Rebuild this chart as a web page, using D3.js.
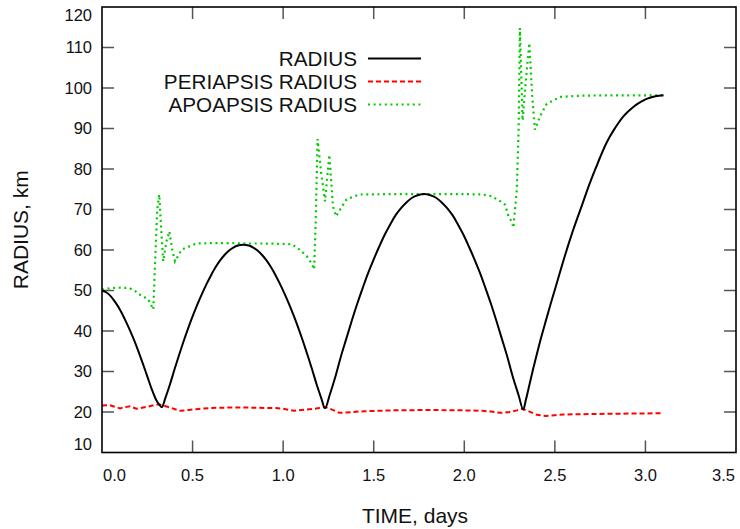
<!DOCTYPE html>
<html>
<head>
<meta charset="utf-8">
<script src="https://cdn.jsdelivr.net/npm/d3@7/dist/d3.min.js"></script>
<style>
  html, body { margin: 0; padding: 0; background: #fff; }
  svg { display: block; font-family: "Liberation Sans", Arial, Helvetica, sans-serif; }
</style>
</head>
<body>
<svg id="chart" width="740" height="529"></svg>
<script>
// ---------- data ----------
const seriesNames = ["RADIUS", "PERIAPSIS RADIUS", "APOAPSIS RADIUS"];

const radiusTime = [0, 0.025, 0.05, 0.075, 0.1, 0.125, 0.15, 0.175, 0.2, 0.225, 0.25, 0.275, 0.3, 0.315, 0.33,
  0.35, 0.375, 0.4, 0.425, 0.45, 0.475, 0.5, 0.525, 0.55, 0.575, 0.6, 0.625, 0.65, 0.675, 0.7, 0.725, 0.75, 0.78,
  0.81, 0.835, 0.86, 0.885, 0.91, 0.935, 0.96, 0.985, 1.01, 1.035, 1.06, 1.085, 1.11, 1.135, 1.16, 1.185, 1.21, 1.231,
  1.257, 1.287, 1.317, 1.348, 1.378, 1.408, 1.439, 1.469, 1.5, 1.53, 1.56, 1.591, 1.621, 1.652, 1.682, 1.712, 1.743, 1.778,
  1.813, 1.844, 1.874, 1.904, 1.935, 1.965, 1.996, 2.026, 2.056, 2.087, 2.117, 2.148, 2.178, 2.208, 2.239, 2.269, 2.2995, 2.325,
  2.34, 2.36, 2.38, 2.4, 2.425, 2.45, 2.475, 2.5, 2.525, 2.55, 2.575, 2.6, 2.625, 2.65, 2.675, 2.7, 2.731, 2.75, 2.775, 2.8, 2.825, 2.85, 2.875, 2.9, 2.925, 2.95, 2.975, 3.0, 3.025, 3.05, 3.075, 3.1];
const radiusValue = [50, 49.5, 48.5, 47.0, 45.2, 43.0, 40.6, 38.0, 35.1, 32.0, 28.8, 25.6, 22.9, 21.9, 21.2,
  23.5, 26.8, 30.5, 34.0, 37.4, 40.6, 43.6, 46.4, 49.0, 51.4, 53.6, 55.6, 57.3, 58.7, 59.8, 60.6, 61.1, 61.3,
  61.1, 60.6, 59.8, 58.7, 57.3, 55.6, 53.6, 51.4, 49.0, 46.4, 43.6, 40.6, 37.4, 34.0, 30.5, 26.8, 23.5, 20.9,
  24.2, 28.5, 33.4, 38.0, 42.4, 46.6, 50.6, 54.3, 57.7, 60.8, 63.7, 66.3, 68.6, 70.4, 71.8, 72.9, 73.5, 73.8,
  73.5, 72.9, 71.8, 70.4, 68.6, 66.3, 63.7, 60.8, 57.7, 54.3, 50.6, 46.6, 42.4, 38.0, 33.4, 28.5, 24.2, 20.6,
  23.0, 26.8, 30.6, 34.2, 38.5, 42.5, 46.4, 50.2, 54.0, 57.8, 61.4, 64.8, 68.0, 71.1, 74.3, 77.3, 80.8, 82.9, 85.5, 87.7, 89.6, 91.3, 92.8, 94.0, 95.0, 95.9, 96.6, 97.2, 97.6, 97.9, 98.1, 98.2];

const periTime = [0, 0.04, 0.07, 0.1, 0.13, 0.155, 0.19, 0.25, 0.31, 0.34, 0.375, 0.43, 0.48, 0.52, 0.6, 0.7, 0.8, 0.9, 0.96, 1.0, 1.06, 1.13, 1.19, 1.23, 1.27, 1.31, 1.35, 1.45, 1.6, 1.8, 2.0, 2.1, 2.15, 2.2, 2.25, 2.29, 2.32, 2.36, 2.4, 2.45, 2.5, 2.55, 2.7, 2.9, 3.09];
const periValue = [21.6, 21.7, 21.3, 20.9, 21.2, 21.4, 20.8, 21.3, 21.9, 21.6, 21.1, 20.3, 20.5, 20.7, 21.0, 21.1, 21.1, 21.0, 21.0, 20.8, 20.3, 20.6, 20.9, 21.3, 20.6, 19.8, 19.9, 20.2, 20.4, 20.5, 20.4, 20.3, 20.1, 19.8, 20.0, 20.4, 20.8, 20.1, 19.3, 19.0, 19.2, 19.4, 19.5, 19.6, 19.7];

const apoTime = [0, 0.05, 0.1, 0.15, 0.18, 0.2, 0.22, 0.255, 0.27, 0.283, 0.293, 0.305, 0.316, 0.327, 0.338, 0.355, 0.372, 0.388, 0.403, 0.44, 0.52, 0.6, 0.7, 0.8, 0.9, 1.0, 1.05, 1.09, 1.13, 1.16, 1.171, 1.18, 1.19, 1.21, 1.231, 1.255, 1.275, 1.292, 1.315, 1.35, 1.42, 1.6, 1.8, 2.0, 2.1, 2.15, 2.2, 2.225, 2.244, 2.262, 2.271, 2.29, 2.3, 2.307, 2.322, 2.34, 2.359, 2.375, 2.39, 2.418, 2.455, 2.53, 2.64, 2.8, 3.0, 3.1];
const apoValue = [50.2, 50.6, 50.7, 50.6, 50.0, 49.2, 48.7, 47.8, 46.5, 45.3, 56.8, 70.0, 73.7, 65.0, 57.2, 62.0, 64.6, 60.0, 57.2, 60.1, 61.6, 61.7, 61.7, 61.6, 61.6, 61.5, 61.4, 60.1, 58.5, 56.5, 55.2, 67.5, 87.4, 79.0, 72.0, 83.5, 70.8, 68.3, 70.0, 72.5, 73.7, 73.8, 73.8, 73.8, 73.7, 73.3, 72.0, 71.2, 68.3, 67.0, 65.5, 74.9, 90.0, 114.8, 92.0, 102.0, 111.1, 98.0, 89.7, 93.0, 96.1, 97.8, 98.1, 98.2, 98.2, 98.2];

const xTicks = [0, 0.5, 1.0, 1.5, 2.0, 2.5, 3.0, 3.5];
const yTicks = [10, 20, 30, 40, 50, 60, 70, 80, 90, 100, 110, 120];
const xTitle = "TIME, days";
const yTitle = "RADIUS, km";

// ---------- layout ----------
const svg = d3.select("#chart");
const L = 102, R = 736, T = 7, B = 452.5;
const x = d3.scaleLinear().domain([0, 3.5]).range([L, R]);
const y = d3.scaleLinear().domain([10, 120]).range([B, T]);

const tickLen = 12, tickColor = "#555";
const g = svg.append("g");

// ticks (inward, mirrored on all sides)
xTicks.filter(v => v > 0 && v < 3.5).forEach(v => {
  g.append("line").attr("x1", x(v)).attr("x2", x(v)).attr("y1", B).attr("y2", B - tickLen)
    .attr("stroke", tickColor).attr("stroke-width", 1.5);
  g.append("line").attr("x1", x(v)).attr("x2", x(v)).attr("y1", T).attr("y2", T + tickLen)
    .attr("stroke", tickColor).attr("stroke-width", 1.5);
});
yTicks.filter(v => v > 10 && v < 120).forEach(v => {
  g.append("line").attr("x1", L).attr("x2", L + tickLen).attr("y1", y(v)).attr("y2", y(v))
    .attr("stroke", tickColor).attr("stroke-width", 1.5);
  g.append("line").attr("x1", R).attr("x2", R - tickLen).attr("y1", y(v)).attr("y2", y(v))
    .attr("stroke", tickColor).attr("stroke-width", 1.5);
});

// tick labels (kept inside the axis span, as in the reference)
xTicks.forEach(v => {
  const t = svg.append("text").attr("y", 481).attr("text-anchor", "middle")
    .attr("font-size", 16.5).attr("fill", "#111").text(v.toFixed(1));
  const w = t.node().getComputedTextLength();
  const cx = Math.max(L + w / 2 + 1, Math.min(R - w / 2 - 1, x(v)));
  t.attr("x", cx);
});
yTicks.forEach(v => {
  const cy = Math.max(T + 8, Math.min(B - 8.5, y(v)));
  svg.append("text").attr("x", 92).attr("y", cy).attr("dy", "0.36em").attr("text-anchor", "end")
    .attr("font-size", 16.5).attr("fill", "#111").text(v);
});

// axis titles
svg.append("text").attr("x", (L + R) / 2 - 4).attr("y", 523).attr("text-anchor", "middle")
  .attr("font-size", 21).attr("fill", "#111").text(xTitle);
svg.append("text").attr("transform", `translate(28,${(T + B) / 2}) rotate(-90)`).attr("text-anchor", "middle")
  .attr("font-size", 21).attr("fill", "#111").text(yTitle);

// series
const zip = (ts, vs) => ts.map((t, i) => [t, vs[i]]);
const lineSmooth = d3.line().x(d => x(d[0])).y(d => y(d[1])).curve(d3.curveCatmullRom.alpha(0.5));
const lineLin = d3.line().x(d => x(d[0])).y(d => y(d[1]));

const styles = [
  { color: "#000000", dash: null },
  { color: "#ff0000", dash: "5,3" },
  { color: "#00cc00", dash: "2,3.6" }
];

svg.append("path").datum(zip(apoTime, apoValue)).attr("d", lineLin)
  .attr("fill", "none").attr("stroke", styles[2].color).attr("stroke-width", 2.2).attr("stroke-dasharray", styles[2].dash);
svg.append("path").datum(zip(periTime, periValue)).attr("d", lineLin)
  .attr("fill", "none").attr("stroke", styles[1].color).attr("stroke-width", 2).attr("stroke-dasharray", styles[1].dash);
svg.append("path").datum(zip(radiusTime, radiusValue)).attr("d", lineSmooth)
  .attr("fill", "none").attr("stroke", styles[0].color).attr("stroke-width", 2);

// legend
const legY = [58.5, 81.5, 104.5];
seriesNames.forEach((name, i) => {
  svg.append("text").attr("x", 357).attr("y", legY[i]).attr("dy", "0.36em").attr("text-anchor", "end")
    .attr("font-size", 20.7).attr("fill", "#111").text(name);
  svg.append("line").attr("x1", 368).attr("x2", 421).attr("y1", legY[i]).attr("y2", legY[i])
    .attr("stroke", styles[i].color).attr("stroke-width", 2).attr("stroke-dasharray", styles[i].dash);
});

// frame
svg.append("rect").attr("x", L).attr("y", T).attr("width", R - L).attr("height", B - T)
  .attr("fill", "none").attr("stroke", "#000").attr("stroke-width", 1.6);
</script>
</body>
</html>
